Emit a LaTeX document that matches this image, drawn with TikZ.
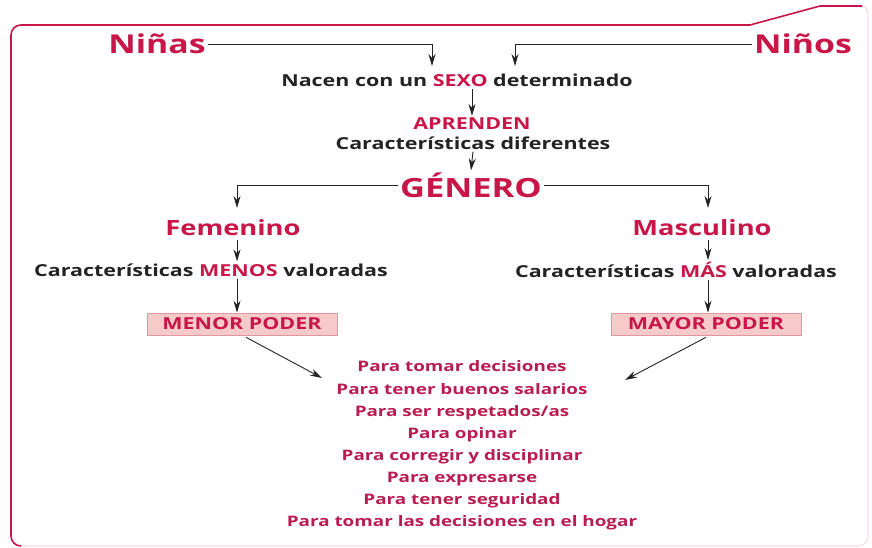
\documentclass[tikz,border=0pt]{standalone}
\usepackage{fontspec}
\setmainfont{PT Sans}
\newfontfamily\ancha[FakeStretch=1.3]{Open Sans}
\usetikzlibrary{arrows.meta}
\usetikzlibrary{calc}
\usetikzlibrary{positioning}
\definecolor{rosa}{RGB}{200,22,72}
\definecolor{rosalista}{RGB}{185,28,78}
\definecolor{rosacaja}{RGB}{246,202,202}
\definecolor{rosaborde}{RGB}{226,150,158}
\definecolor{rosapalido}{RGB}{246,222,228}
\definecolor{negro}{RGB}{35,35,35}
\tikzset{
  flecha/.style={draw=negro,line width=0.9pt,-{Stealth[length=12pt,width=7pt]}},
  titulo/.style={text=rosa,font=\ancha\fontsize{26}{28}\selectfont\bfseries,inner sep=2pt},
  texto/.style={text=negro,font=\ancha\fontsize{16.5}{18}\selectfont\bfseries,inner sep=2pt},
  caja/.style={fill=rosacaja,draw=rosaborde,line width=0.6pt,minimum width=190pt,minimum height=22pt,inner sep=0pt,text=rosa,font=\ancha\fontsize{16.5}{18}\selectfont\bfseries}
}
\begin{document}
\begin{tikzpicture}[x=1pt,y=-1pt]
\useasboundingbox (0,0) rectangle (872,548);
% marco
\draw[rosapalido,line width=1.2pt] (862,6) to[out=0,in=90] (868,16) -- (868,536) to[out=-90,in=0] (858,546) -- (21,546);
\draw[rosa,line width=1.6pt] (21,546) to[out=180,in=-90] (11,536) -- (11,35) to[out=90,in=180] (21,25) -- (750,25) -- (820,6) -- (862,6);
% nodos
\node[titulo] (ninas) at (157,44) {Niñas};
\node[titulo] (ninos) at (803,44) {Niños};
\node[texto] (nacen) at (457,80) {Nacen con un \textcolor{rosa}{SEXO} determinado};
\node[texto,text=rosa] (aprenden) at (472,124) {APRENDEN};
\node[texto] (difer) at (473,143) {Características diferentes};
\node[titulo,font=\ancha\fontsize{26.5}{28}\selectfont\bfseries] (genero) at (471,185) {GÉNERO};
\node[titulo,font=\ancha\fontsize{21}{23}\selectfont\bfseries] (fem) at (233,228) {Femenino};
\node[titulo,font=\ancha\fontsize{21}{23}\selectfont\bfseries] (masc) at (702,228) {Masculino};
\node[texto] (menos) at (211,270) {Características \textcolor{rosa}{MENOS} valoradas};
\node[texto] (mas) at (676,270) {Características \textcolor{rosa}{MÁS} valoradas};
\node[caja] (menor) at (242,324) {MENOR PODER};
\node[caja] (mayor) at (706,324) {MAYOR PODER};
\node[text=rosalista,font=\ancha\fontsize{14.5}{22.1}\selectfont\bfseries,align=center] (lista) at (462,445.5)
  {Para tomar decisiones\\Para tener buenos salarios\\Para ser respetados/as\\Para opinar\\
   Para corregir y disciplinar\\Para expresarse\\Para tener seguridad\\Para tomar las decisiones en el hogar};
% puntos de llegada
\coordinate (llegaA) at (432,66);
\coordinate (llegaB) at (515,66);
\coordinate (llegaF) at (237,208);
\coordinate (llegaM) at (708,208);
\coordinate (llegaI) at (322,378);
\coordinate (llegaD) at (625,380);
% flechas
\draw[flecha] (ninas.east) -| (llegaA);
\draw[flecha] (ninos.west) -| (llegaB);
\draw[flecha] (472,89) -- (aprenden.north);
\draw[flecha] (difer.south) -- (genero.north);
\draw[flecha] (genero.west) -| (llegaF);
\draw[flecha] (genero.east) -| (llegaM);
\draw[flecha] (237,240) -- (menos.north -| 237,0);
\draw[flecha] (708,240) -- (mas.north -| 708,0);
\draw[flecha] (menos.south -| 237,0) -- (menor.north -| 237,0);
\draw[flecha] (mas.south -| 708,0) -- (mayor.north -| 708,0);
\draw[flecha] ($(menor.south)+(4,2)$) -- (llegaI);
\draw[flecha] ($(mayor.south)+(0,2)$) -- (llegaD);
\end{tikzpicture}
\end{document}
